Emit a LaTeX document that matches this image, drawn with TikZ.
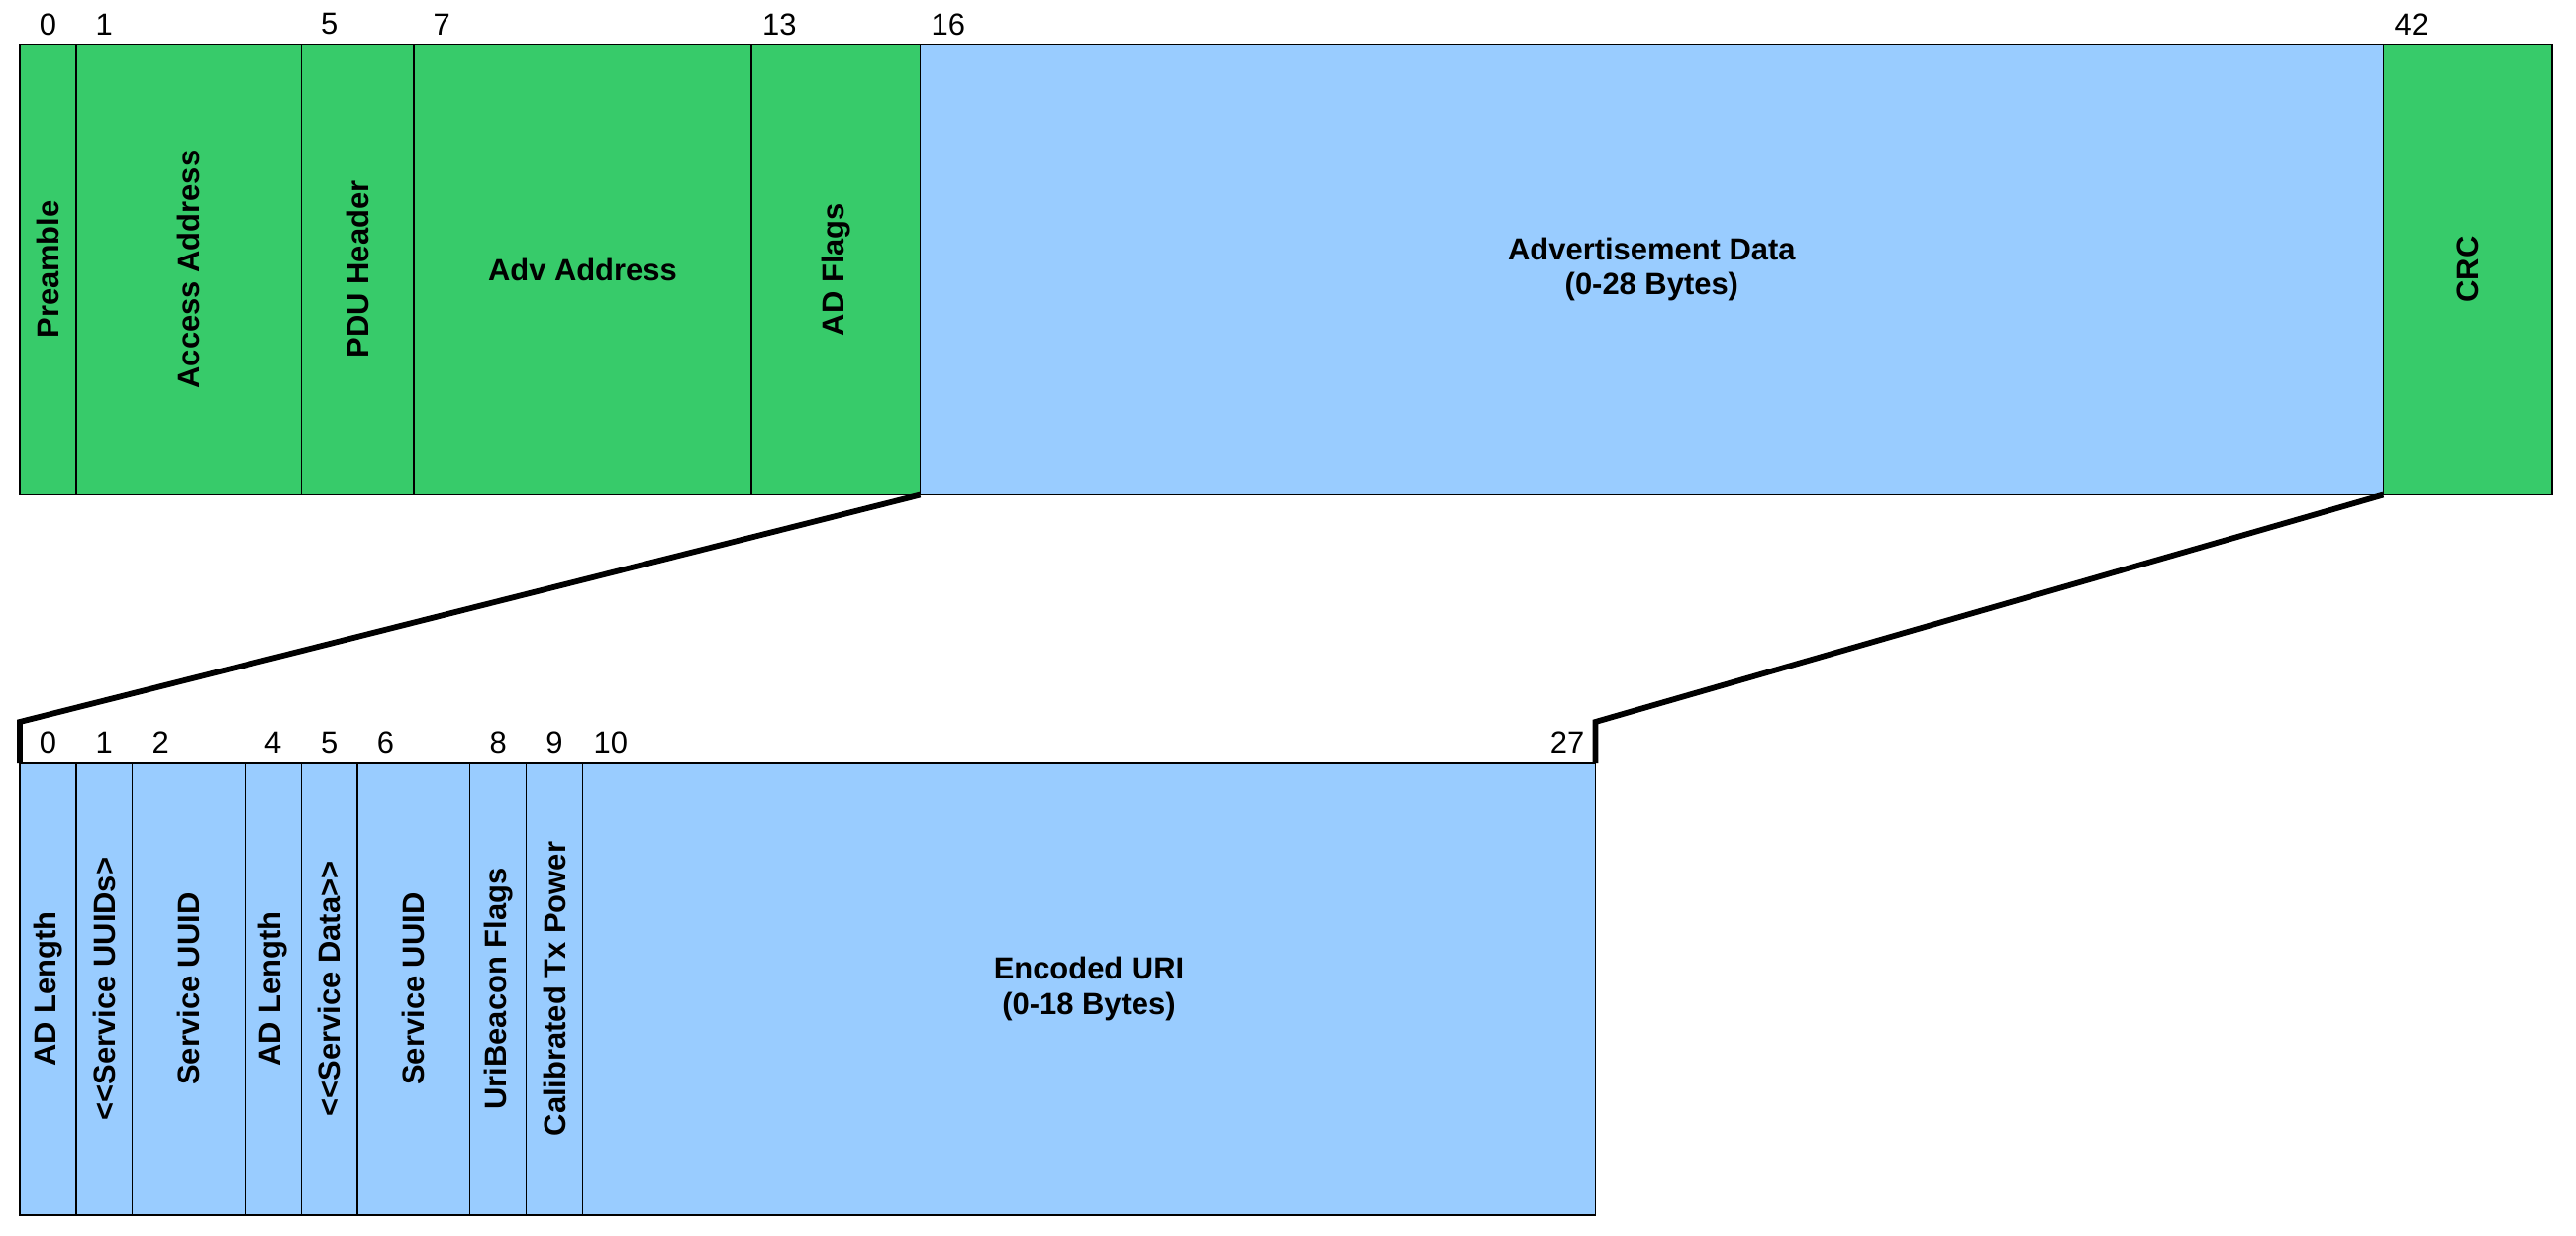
\documentclass[tikz,border=0pt]{standalone}
\usepackage{fontspec}
\setmainfont{Liberation Sans}[Ligatures=TeXOff]
\usepackage{graphicx}
\usepackage{tikz}
\usetikzlibrary{positioning,calc}
\definecolor{pktgreen}{RGB}{55,203,106}
\definecolor{pktblue}{RGB}{153,204,255}
\newcommand{\bw}{0.5684cm}
\newcommand{\up}[1]{\rotatebox{90}{#1}}
\tikzset{
  cell/.style={draw=black, line width=0.4pt, rectangle, inner sep=0pt, outer sep=0pt,
    font=\fontsize{8.8}{10}\selectfont\bfseries, align=center},
  greencell/.style={cell, fill=pktgreen, minimum height=4.55cm},
  bluecell/.style={cell, fill=pktblue, minimum height=4.57cm},
  bytenum/.style={font=\fontsize{8.8}{10}\selectfont, inner sep=0pt},
  zoomline/.style={line width=1.65pt, line join=miter}
}

\begin{document}
\begin{tikzpicture}[node distance=0pt]
    \useasboundingbox (0,0) rectangle (26.02,-12.48);

    % Advertising packet
    \node (pre) [greencell, minimum width=1*\bw, anchor=north west] at (0.2,-0.445) {\up{Preamble}};
    \node (acc) [greencell, minimum width=4*\bw, right=of pre] {\up{Access Address}};
    \node (pdu) [greencell, minimum width=2*\bw, right=of acc] {\up{PDU Header}};
    \node (adv) [greencell, minimum width=6*\bw, right=of pdu] {Adv Address};
    \node (adf) [greencell, minimum width=3*\bw, right=of adv] {\up{AD Flags}};
    \node (data) [bluecell, minimum height=4.55cm, minimum width=26*\bw, right=of adf] {Advertisement Data\\(0-28 Bytes)};
    \node (crc) [greencell, minimum width=3*\bw, right=of data] {\up{CRC}};

    % Advertisement data, zoomed
    \node (len1) [bluecell, minimum width=1*\bw, anchor=north west] at (0.2,-7.70) {\up{AD Length}};
    \node (uuids) [bluecell, minimum width=1*\bw, right=of len1] {\up{<<Service UUIDs>}};
    \node (uuid1) [bluecell, minimum width=2*\bw, right=of uuids] {\up{Service UUID}};
    \node (len2) [bluecell, minimum width=1*\bw, right=of uuid1] {\up{AD Length}};
    \node (sdata) [bluecell, minimum width=1*\bw, right=of len2] {\up{<<Service Data>>}};
    \node (uuid2) [bluecell, minimum width=2*\bw, right=of sdata] {\up{Service UUID}};
    \node (flags) [bluecell, minimum width=1*\bw, right=of uuid2] {\up{UriBeacon Flags}};
    \node (txp) [bluecell, minimum width=1*\bw, right=of flags] {\up{Calibrated Tx Power}};
    \node (uri) [bluecell, minimum width=18*\bw, right=of txp] {Encoded URI\\(0-18 Bytes)};

    % Byte offsets
    \foreach \b in {0,1,5,7,13,16,42}
        \node[bytenum] at ({0.2+(\b+0.5)*0.5684}, -0.245) {\b};
    \foreach \b in {0,1,2,4,5,6,8,9,10,27}
        \node[bytenum] at ({0.2+(\b+0.5)*0.5684}, -7.50) {\b};

    % Zoom lines
    \coordinate (kneeL) at (0.2,-7.29);
    \coordinate (kneeR) at ($(uri.north east)+(0,0.41)$);
    \draw[zoomline] (adf.south east) -- (kneeL) -- (len1.north west);
    \draw[zoomline] (data.south east) -- (kneeR) -- (uri.north east);

\end{tikzpicture}
\end{document}
